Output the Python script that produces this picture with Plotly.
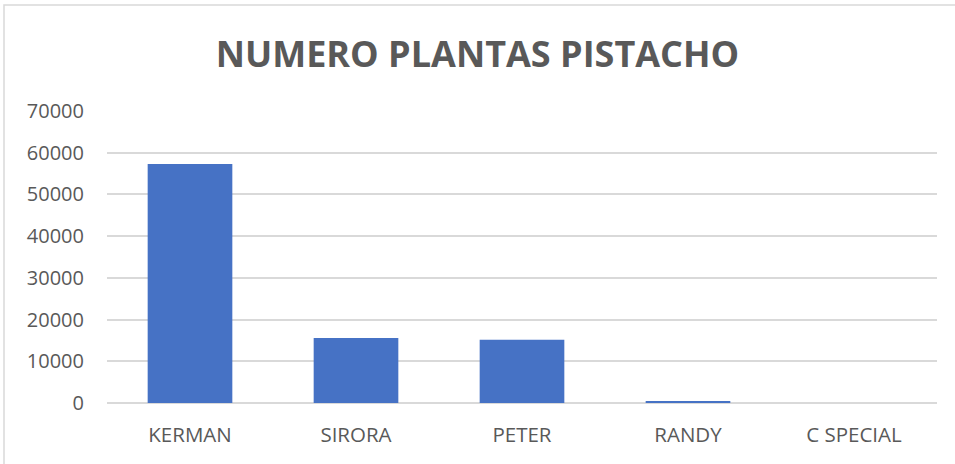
import plotly.graph_objects as go

categories = ["KERMAN", "SIRORA", "PETER", "RANDY", "C SPECIAL"]
values = [57300, 15600, 15150, 500, 0]
y_ticks = [0, 10000, 20000, 30000, 40000, 50000, 60000, 70000]

W, H = 955, 464
L, R, T, B = 107, 18, 111, 61

fig = go.Figure()
fig.add_trace(go.Bar(
    x=categories, y=values,
    marker=dict(color="#4672c5", line=dict(width=0)),
    width=0.51,
))

fig.update_layout(
    width=W, height=H,
    margin=dict(l=L, r=R, t=T, b=B),
    paper_bgcolor="white", plot_bgcolor="white",
    showlegend=False,
    title=dict(
        text="<b>NUMERO PLANTAS PISTACHO</b>",
        x=0.5, xanchor="center", y=1 - 54 / H, yanchor="middle",
        font=dict(family="Open Sans", size=36, color="#595959"),
    ),
    font=dict(family="Open Sans", color="#595959"),
    bargap=0.49,
)
fig.update_xaxes(
    showgrid=False, showline=False, ticks="",
    tickfont=dict(size=20.5, color="#595959"),
    ticklabelstandoff=17,
)
fig.update_yaxes(
    range=[0, 70000], tickvals=y_ticks, ticktext=[str(v) for v in y_ticks],
    showgrid=True, gridcolor="#d9d9d9", gridwidth=1.5,
    zeroline=True, zerolinecolor="#d9d9d9", zerolinewidth=1.5,
    showline=False, ticks="",
    tickfont=dict(size=20, color="#595959"),
    ticklabelstandoff=22,
)
# outer chart border (partially visible in the reference)
fig.add_shape(
    type="rect", xref="paper", yref="paper",
    x0=(4 - L) / (W - L - R), x1=(W + 5 - L) / (W - L - R),
    y0=-(B + 5) / (H - T - B), y1=1 + (T - 5) / (H - T - B),
    line=dict(color="#d9d9d9", width=1.5), layer="below",
)
fig.write_html(
    "out.html",
    config={"displayModeBar": False},
    post_script="document.body.style.margin='0';document.body.style.padding='0';",
)
